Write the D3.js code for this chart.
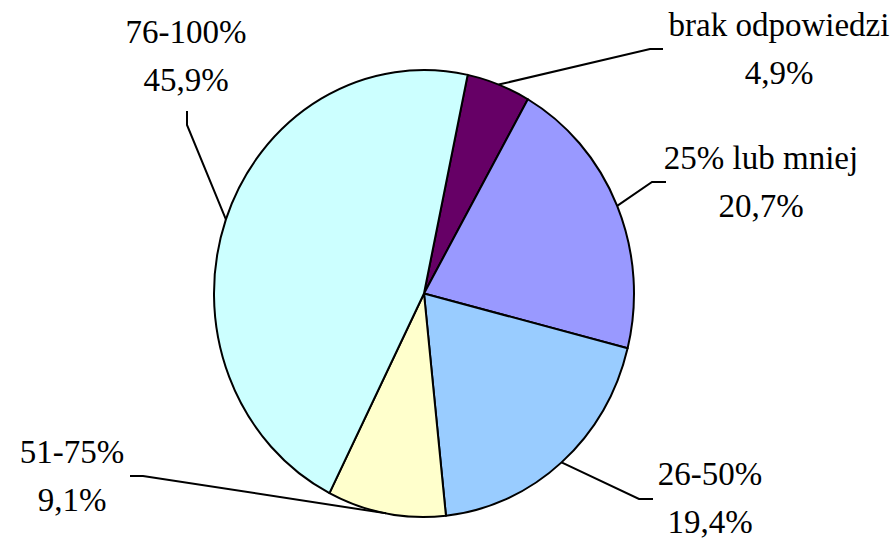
<!DOCTYPE html>
<html>
<head>
<meta charset="utf-8">
<script src="https://cdn.jsdelivr.net/npm/d3@7/dist/d3.min.js"></script>
<style>
  @font-face {
    font-family: "LabelSerif";
    src: local("Liberation Serif"), local("LiberationSerif"), local("LiberationSerif-Regular"), local("Times New Roman"), local("Tinos");
  }
  body { margin: 0; }
</style>
</head>
<body>
<svg id="chart" width="895" height="540"></svg>
<script>
// ---- data ----
const categories = ["brak odpowiedzi", "25% lub mniej", "26-50%", "51-75%", "76-100%"];
const values = [4.9, 20.7, 19.4, 9.1, 45.9];
const colors = ["#660066", "#9999FF", "#99CCFF", "#FFFFCC", "#CCFFFF"];

// ---- layout ----
const cx = 424, cy = 293.5, rx = 210, ry = 223.5;
const startDeg = 12;
// label anchor (centre x, first baseline y) and leader elbow points, per slice
const labelLayout = [
  { x: 779, y: 36,  elbow: [[650, 49], [663, 49]] },
  { x: 761, y: 169, elbow: [[652, 182], [666, 182]] },
  { x: 710, y: 485, elbow: [[639, 499], [653, 499]] },
  { x: 72,  y: 463, elbow: [[143, 476], [130, 476]] },
  { x: 186, y: 43,  elbow: [[187, 125], [187, 111]] }
];
const lineGap = 48;

const fmt = v => d3.format(".1f")(v).replace(".", ",") + "%";

const svg = d3.select("#chart");
const data = categories.map((c, i) => ({ cat: c, value: values[i], color: colors[i], i }));

const pie = d3.pie().sort(null).value(d => d.value)
  .startAngle(startDeg * Math.PI / 180)
  .endAngle(startDeg * Math.PI / 180 + 2 * Math.PI);
const arcs = pie(data);
const arc = d3.arc().innerRadius(0).outerRadius(ry);

const g = svg.append("g")
  .attr("transform", `translate(${cx},${cy}) scale(${rx / ry},1)`);

g.selectAll("path")
  .data(arcs)
  .join("path")
  .attr("d", arc)
  .attr("fill", d => d.data.color)
  .attr("stroke", "#000")
  .attr("stroke-width", 2)
  .attr("stroke-linejoin", "round")
  .attr("vector-effect", "non-scaling-stroke");

// leader lines
const line = d3.line();
svg.append("g").selectAll("path")
  .data(arcs)
  .join("path")
  .attr("d", d => {
    const a = (d.startAngle + d.endAngle) / 2;
    const p0 = [cx + rx * Math.sin(a), cy - ry * Math.cos(a)];
    return line([p0, ...labelLayout[d.data.i].elbow]);
  })
  .attr("fill", "none")
  .attr("stroke", "#000")
  .attr("stroke-width", 2);

// labels: two text lines per slice
const labelRows = [];
arcs.forEach(d => {
  const L = labelLayout[d.data.i];
  labelRows.push({ x: L.x, y: L.y, t: d.data.cat });
  labelRows.push({ x: L.x, y: L.y + lineGap, t: fmt(d.data.value) });
});
svg.selectAll("text")
  .data(labelRows)
  .join("text")
  .attr("x", d => d.x)
  .attr("y", d => d.y)
  .attr("font-size", 33)
  .style("font-family", '"Times New Roman", "LabelSerif", "Liberation Serif", Tinos, serif')
  .attr("text-anchor", "middle")
  .text(d => d.t);
</script>
</body>
</html>
